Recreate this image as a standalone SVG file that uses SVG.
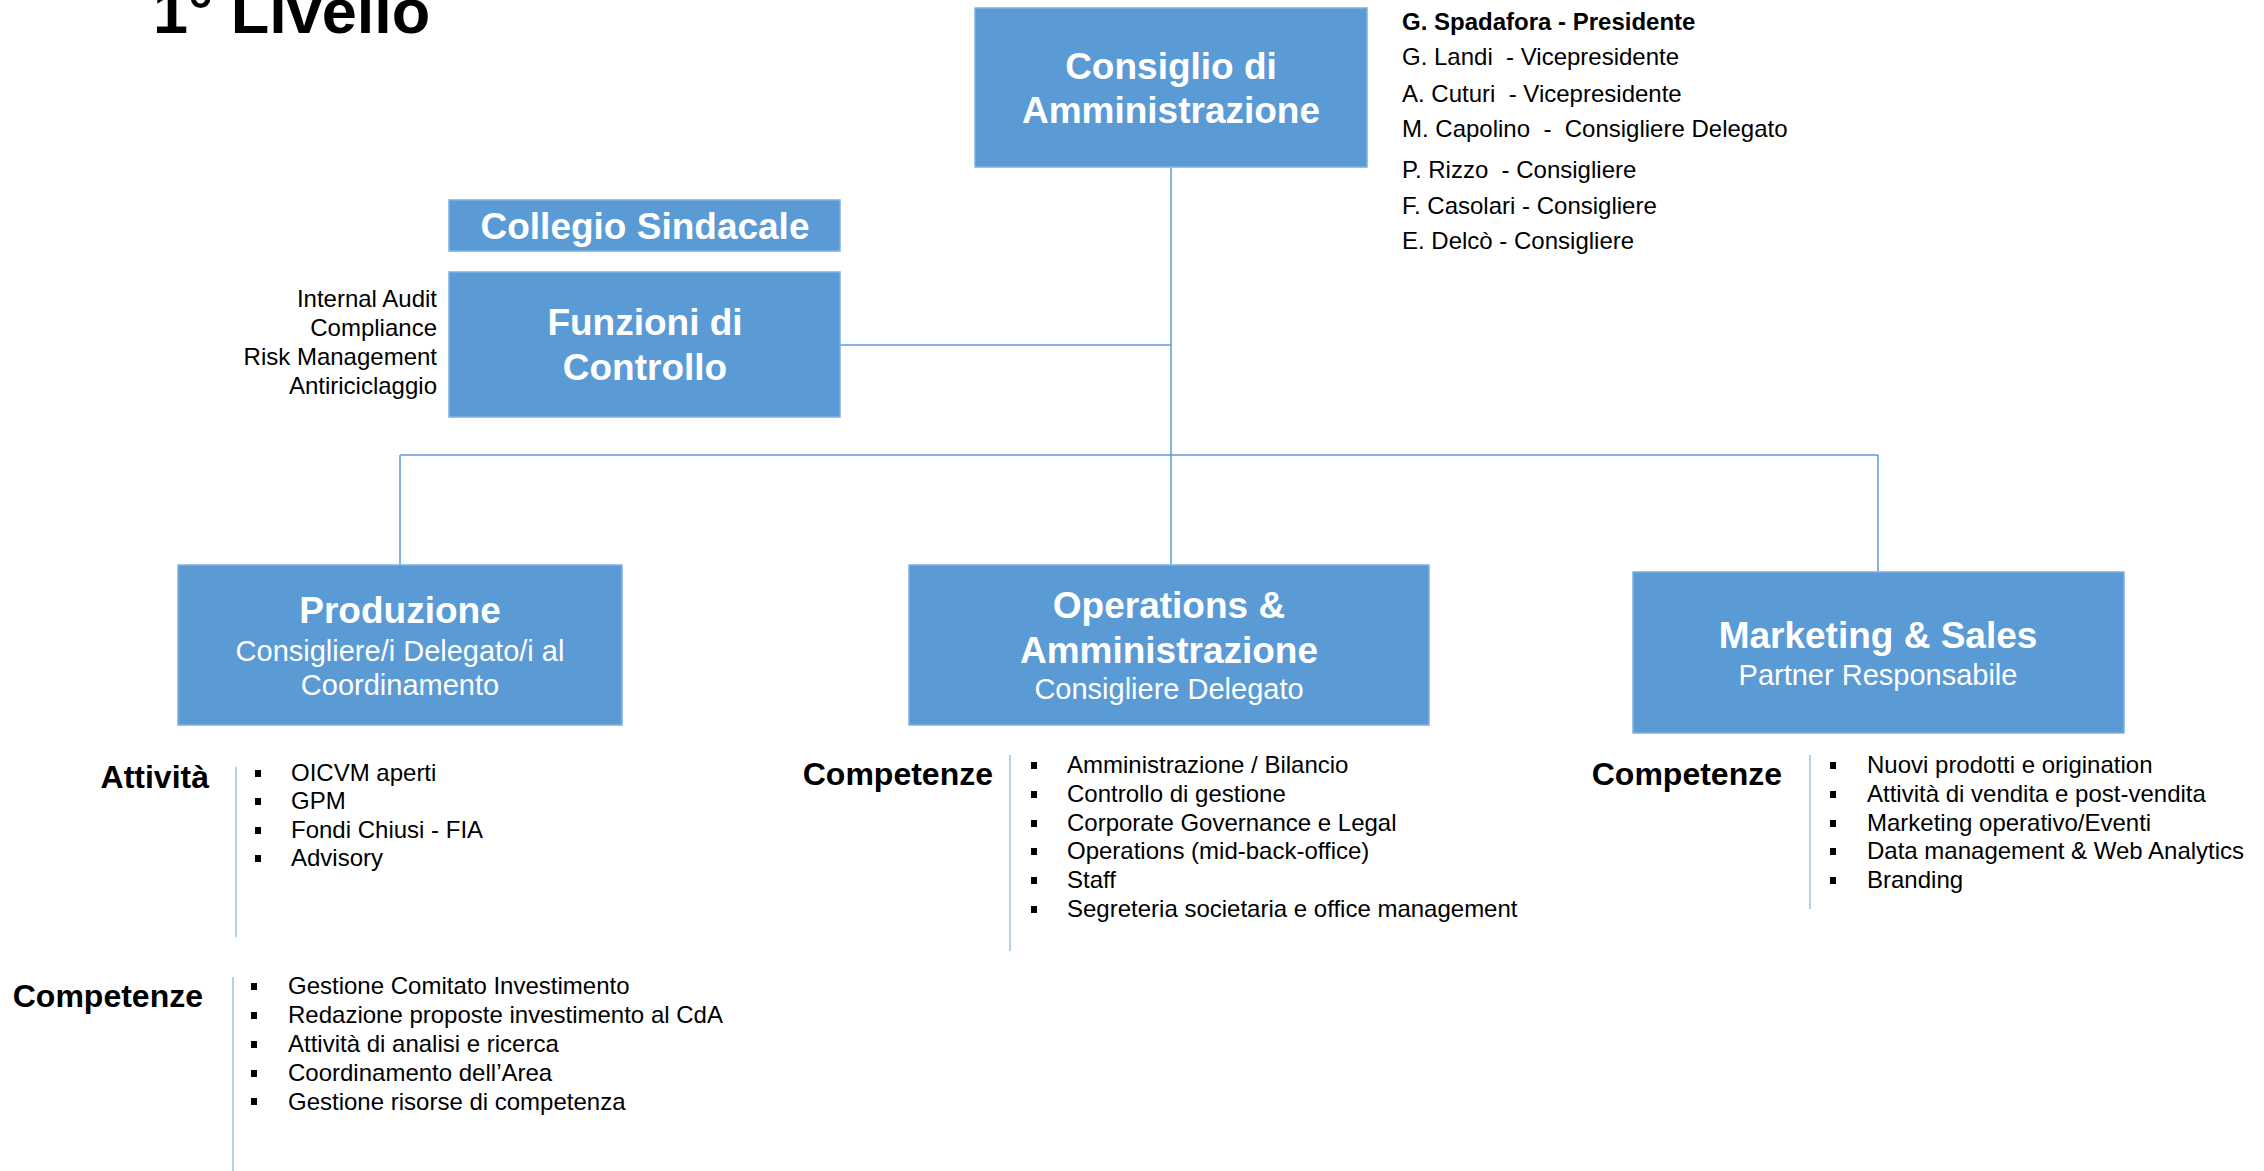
<svg xmlns="http://www.w3.org/2000/svg" width="2264" height="1171" viewBox="0 0 2264 1171">
<style>
.box{fill:#5B9BD5;stroke:#7FB0E0;stroke-width:1.5}
.bt{font-family:"Liberation Sans",Arial,sans-serif;font-weight:bold;fill:#fff;text-anchor:middle;font-size:37px}
.st{font-family:"Liberation Sans",Arial,sans-serif;fill:#fff;text-anchor:middle;font-size:29px}
.t{font-family:"Liberation Sans",Arial,sans-serif;fill:#000;font-size:24px}
.h{font-family:"Liberation Sans",Arial,sans-serif;fill:#000;font-size:32px;font-weight:bold;text-anchor:end}
.conn{stroke:#5B9BD5;stroke-width:1.5;fill:none}
.sep{stroke:#9CC0E6;stroke-width:1.5;fill:none}
.bul{fill:#000}
</style>
<rect width="2264" height="1171" fill="#fff"/>
<text x="153" y="33" font-family="Liberation Sans,Arial,sans-serif" font-weight="bold" font-size="63">1° Livello</text>

<g id="connectors">
<line class="conn" x1="1171" y1="167" x2="1171" y2="566"/>
<line class="conn" x1="840" y1="345" x2="1171" y2="345"/>
<line class="conn" x1="400" y1="455" x2="1878" y2="455"/>
<line class="conn" x1="400" y1="455" x2="400" y2="565"/>
<line class="conn" x1="1878" y1="455" x2="1878" y2="572"/>
</g>

<g id="consiglio">
<rect class="box" x="975" y="8" width="392" height="159"/>
<text class="bt" x="1171" y="79">Consiglio di</text>
<text class="bt" x="1171" y="123">Amministrazione</text>
</g>

<g id="membri" class="t">
<text x="1402" y="30" font-weight="bold">G. Spadafora - Presidente</text>
<text x="1402" y="65" xml:space="preserve">G. Landi  - Vicepresidente</text>
<text x="1402" y="102" xml:space="preserve">A. Cuturi  - Vicepresidente</text>
<text x="1402" y="137" xml:space="preserve">M. Capolino  -  Consigliere Delegato</text>
<text x="1402" y="178" xml:space="preserve">P. Rizzo  - Consigliere</text>
<text x="1402" y="214">F. Casolari - Consigliere</text>
<text x="1402" y="249">E. Delcò - Consigliere</text>
</g>

<g id="collegio">
<rect class="box" x="449" y="200" width="391" height="51"/>
<text class="bt" x="645" y="239">Collegio Sindacale</text>
</g>

<g id="funzioni">
<rect class="box" x="449" y="272" width="391" height="145"/>
<text class="bt" x="645" y="335">Funzioni di</text>
<text class="bt" x="645" y="380">Controllo</text>
</g>
<g id="funzioni-list" class="t" text-anchor="end">
<text x="437" y="307">Internal Audit</text>
<text x="437" y="336">Compliance</text>
<text x="437" y="365">Risk Management</text>
<text x="437" y="394">Antiriciclaggio</text>
</g>

<g id="produzione">
<rect class="box" x="178" y="565" width="444" height="160"/>
<text class="bt" x="400" y="623">Produzione</text>
<text class="st" x="400" y="661">Consigliere/i Delegato/i al</text>
<text class="st" x="400" y="695">Coordinamento</text>
</g>

<g id="operations">
<rect class="box" x="909" y="565" width="520" height="160"/>
<text class="bt" x="1169" y="618">Operations &amp;</text>
<text class="bt" x="1169" y="663">Amministrazione</text>
<text class="st" x="1169" y="699">Consigliere Delegato</text>
</g>

<g id="marketing">
<rect class="box" x="1633" y="572" width="491" height="161"/>
<text class="bt" x="1878" y="648">Marketing &amp; Sales</text>
<text class="st" x="1878" y="685">Partner Responsabile</text>
</g>

<g id="prod-attivita">
<text class="h" x="209" y="788">Attività</text>
<line class="sep" x1="236" y1="767" x2="236" y2="937"/>
<rect class="bul" x="255" y="770" width="6" height="7"/>
<rect class="bul" x="255" y="798" width="6" height="7"/>
<rect class="bul" x="255" y="827" width="6" height="7"/>
<rect class="bul" x="255" y="855" width="6" height="7"/>
<g class="t">
<text x="291" y="781">OICVM aperti</text>
<text x="291" y="809">GPM</text>
<text x="291" y="838">Fondi Chiusi - FIA</text>
<text x="291" y="866">Advisory</text>
</g>
</g>

<g id="prod-competenze">
<text class="h" x="203" y="1007">Competenze</text>
<line class="sep" x1="233" y1="977" x2="233" y2="1171"/>
<rect class="bul" x="251" y="983" width="6" height="7"/>
<rect class="bul" x="251" y="1012" width="6" height="7"/>
<rect class="bul" x="251" y="1041" width="6" height="7"/>
<rect class="bul" x="251" y="1070" width="6" height="7"/>
<rect class="bul" x="251" y="1098" width="6" height="7"/>
<g class="t">
<text x="288" y="994">Gestione Comitato Investimento</text>
<text x="288" y="1023">Redazione proposte investimento al CdA</text>
<text x="288" y="1052">Attività di analisi e ricerca</text>
<text x="288" y="1081">Coordinamento dell’Area</text>
<text x="288" y="1110">Gestione risorse di competenza</text>
</g>
</g>

<g id="ops-competenze">
<text class="h" x="993" y="785">Competenze</text>
<line class="sep" x1="1010" y1="755" x2="1010" y2="951"/>
<rect class="bul" x="1031" y="762" width="6" height="7"/>
<rect class="bul" x="1031" y="791" width="6" height="7"/>
<rect class="bul" x="1031" y="820" width="6" height="7"/>
<rect class="bul" x="1031" y="848" width="6" height="7"/>
<rect class="bul" x="1031" y="877" width="6" height="7"/>
<rect class="bul" x="1031" y="906" width="6" height="7"/>
<g class="t">
<text x="1067" y="773">Amministrazione / Bilancio</text>
<text x="1067" y="802">Controllo di gestione</text>
<text x="1067" y="831">Corporate Governance e Legal</text>
<text x="1067" y="859">Operations (mid-back-office)</text>
<text x="1067" y="888">Staff</text>
<text x="1067" y="917">Segreteria societaria e office management</text>
</g>
</g>

<g id="mkt-competenze">
<text class="h" x="1782" y="785">Competenze</text>
<line class="sep" x1="1810" y1="755" x2="1810" y2="909"/>
<rect class="bul" x="1830" y="762" width="6" height="7"/>
<rect class="bul" x="1830" y="791" width="6" height="7"/>
<rect class="bul" x="1830" y="820" width="6" height="7"/>
<rect class="bul" x="1830" y="848" width="6" height="7"/>
<rect class="bul" x="1830" y="877" width="6" height="7"/>
<g class="t">
<text x="1867" y="773">Nuovi prodotti e origination</text>
<text x="1867" y="802">Attività di vendita e post-vendita</text>
<text x="1867" y="831">Marketing operativo/Eventi</text>
<text x="1867" y="859">Data management &amp; Web Analytics</text>
<text x="1867" y="888">Branding</text>
</g>
</g>
</svg>
